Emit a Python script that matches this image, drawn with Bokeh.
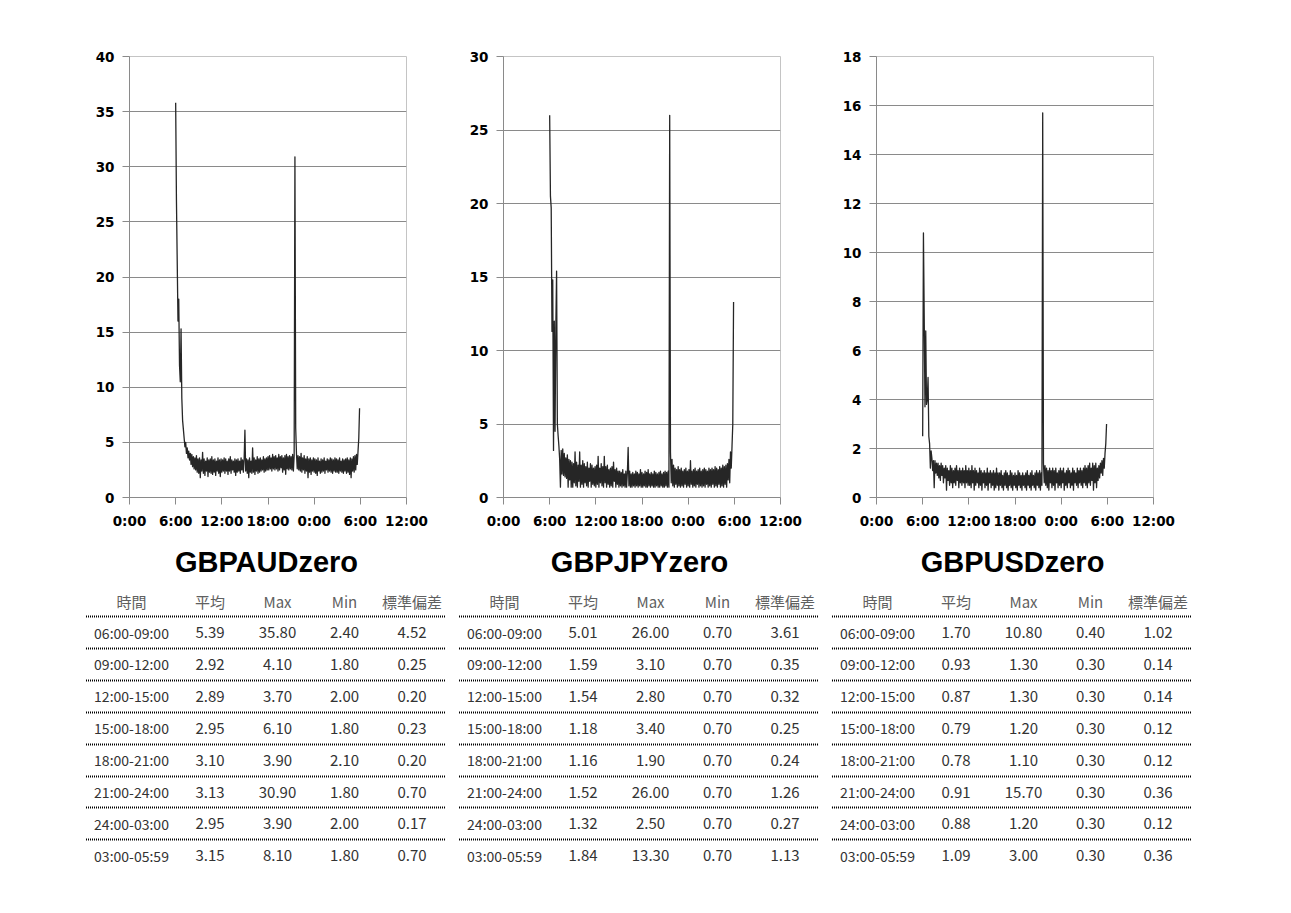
from bokeh.plotting import figure
from bokeh.layouts import row, column
from bokeh.models import Range1d, FixedTicker
from bokeh.core.properties import value
from bokeh.embed import file_html
from bokeh.resources import INLINE

# ---------------- data ----------------
# sampling times: every 6 minutes from 06:00 to 05:54 next day (minutes since 0:00 of day 1)
sample_minutes = list(range(360, 1800, 6))

aud_spread = [
    35.8, 27.0, 21.5, 16.0, 18.0, 12.0, 10.5, 15.3, 9.0, 7.0,
    6.2, 5.4, 4.6, 5.0, 4.0, 4.5, 3.6, 4.2, 3.4, 4.0,
    3.0, 3.9, 2.8, 3.7, 2.6, 3.6, 2.5, 3.8, 2.3, 3.5,
    2.2, 3.6, 1.8, 3.4, 2.4, 4.1, 2.2, 3.5, 2.0, 3.3,
    2.4, 3.6, 1.9, 3.4, 2.3, 3.5, 2.2, 3.7, 2.1, 3.4,
    2.3, 3.5, 2.0, 3.3, 2.4, 3.6, 2.2, 3.4, 1.9, 3.5,
    2.3, 3.4, 2.4, 3.6, 2.2, 3.5, 2.4, 3.3, 2.1, 3.5,
    2.4, 3.7, 2.2, 3.4, 2.5, 3.3, 2.3, 3.5, 2.0, 3.4,
    2.3, 3.5, 2.4, 3.3, 2.2, 3.6, 2.5, 3.4, 2.3, 3.5,
    6.1, 2.4, 3.5, 2.2, 3.4, 1.8, 3.6, 2.3, 3.3, 2.2,
    4.5, 2.3, 3.6, 2.1, 3.4, 2.4, 3.7, 2.2, 3.5, 2.3,
    3.6, 2.4, 3.4, 2.5, 3.7, 2.3, 3.5, 2.4, 3.6, 2.5,
    3.7, 2.5, 3.8, 2.6, 3.6, 2.4, 3.9, 2.6, 3.7, 2.5,
    3.8, 2.6, 3.6, 2.4, 3.9, 2.5, 3.7, 2.7, 3.8, 2.3,
    3.6, 2.5, 3.8, 2.1, 3.9, 2.6, 3.7, 2.5, 3.8, 2.6,
    3.7, 2.5, 3.9, 2.4, 3.8, 30.9, 6.3, 4.0, 2.6, 3.8,
    2.5, 3.7, 2.4, 4.0, 2.3, 3.6, 2.5, 3.8, 2.2, 3.5,
    2.4, 3.7, 1.8, 3.5, 2.3, 3.6, 2.1, 3.4, 2.4, 3.6,
    2.3, 3.5, 2.2, 3.4, 2.0, 3.6, 2.4, 3.3, 2.2, 3.5,
    2.3, 3.4, 2.4, 3.6, 2.2, 3.3, 2.5, 3.5, 2.3, 3.4,
    2.4, 3.6, 2.3, 3.5, 2.2, 3.4, 2.4, 3.6, 2.3, 3.5,
    2.3, 3.4, 2.2, 3.6, 2.4, 3.3, 2.3, 3.5, 2.2, 3.4,
    2.4, 3.5, 2.2, 3.6, 2.3, 3.4, 2.1, 3.6, 1.8, 3.5,
    2.4, 3.7, 2.3, 3.8, 2.5, 3.9, 3.0, 4.2, 5.4, 8.1,
]

jpy_spread = [
    26.0, 20.5, 19.7, 11.3, 14.8, 3.2, 12.0, 4.5, 11.5, 15.4,
    5.0, 4.2, 3.5, 2.6, 0.7, 3.2, 1.6, 3.3, 1.5, 3.0,
    1.4, 2.7, 1.3, 2.9, 0.7, 2.6, 1.2, 2.5, 0.7, 2.4,
    0.7, 2.3, 1.0, 3.1, 0.8, 2.4, 0.7, 2.2, 1.1, 3.1,
    0.7, 2.2, 0.9, 2.5, 0.7, 2.3, 1.0, 2.1, 0.8, 2.4,
    0.7, 2.0, 1.1, 2.3, 0.7, 2.2, 0.9, 2.0, 0.8, 2.1,
    0.7, 2.2, 0.9, 2.8, 0.7, 2.0, 1.0, 2.3, 0.8, 2.1,
    0.7, 2.8, 1.0, 2.1, 0.7, 2.2, 0.9, 1.9, 0.7, 2.0,
    0.8, 2.1, 0.7, 2.4, 1.1, 1.9, 0.7, 2.0, 0.9, 1.8,
    0.7, 1.8, 0.8, 1.7, 0.7, 1.9, 0.8, 1.6, 0.7, 1.8,
    0.7, 1.7, 3.4, 0.8, 1.8, 0.7, 1.6, 0.7, 1.7, 0.8,
    1.6, 0.7, 1.8, 0.8, 1.7, 0.7, 1.6, 0.8, 1.9, 0.7,
    1.7, 0.7, 1.6, 0.8, 1.8, 0.7, 1.7, 0.7, 1.9, 0.8,
    1.6, 0.7, 1.7, 0.8, 1.6, 0.7, 1.8, 0.7, 1.7, 0.8,
    1.6, 0.7, 1.7, 0.7, 1.8, 0.8, 1.6, 0.7, 1.7, 0.7,
    1.8, 0.8, 1.7, 0.7, 1.8, 0.7, 26.0, 3.1, 1.0, 2.6,
    0.8, 2.2, 0.7, 2.0, 0.9, 1.9, 0.7, 2.1, 0.8, 1.9,
    0.7, 2.0, 0.8, 1.8, 0.7, 1.9, 0.9, 2.0, 0.7, 1.8,
    0.8, 1.9, 0.7, 2.5, 0.9, 1.8, 0.7, 1.9, 0.8, 2.0,
    0.7, 1.8, 0.9, 1.9, 0.7, 2.0, 0.8, 1.8, 0.7, 1.9,
    0.8, 2.0, 0.7, 1.9, 0.9, 1.8, 0.7, 2.0, 0.8, 1.9,
    0.7, 2.0, 0.9, 1.9, 0.7, 2.1, 0.8, 2.0, 0.7, 1.9,
    0.9, 2.1, 0.7, 2.0, 0.8, 2.2, 0.7, 2.1, 0.9, 2.2,
    0.7, 2.3, 1.2, 2.6, 1.0, 3.1, 2.0, 3.5, 5.0, 13.3,
]

usd_spread = [
    2.5, 10.8, 7.4, 3.7, 6.8, 3.8, 4.0, 4.9, 2.5, 2.2,
    1.2, 1.9, 1.6, 1.1, 1.5, 0.4, 1.5, 1.0, 1.4, 0.9,
    1.4, 0.8, 1.3, 0.7, 1.4, 0.9, 1.3, 0.6, 1.2, 0.8,
    1.3, 0.3, 1.2, 0.7, 1.1, 0.5, 1.3, 0.6, 1.2, 0.4,
    1.1, 0.6, 1.2, 0.5, 1.3, 0.7, 1.1, 0.4, 1.2, 0.6,
    1.1, 0.5, 1.2, 0.6, 1.1, 0.4, 1.3, 0.6, 1.1, 0.5,
    1.2, 0.5, 1.1, 0.4, 1.3, 0.6, 1.1, 0.3, 1.2, 0.5,
    1.1, 0.6, 1.0, 0.4, 1.2, 0.5, 1.1, 0.3, 1.0, 0.6,
    1.1, 0.4, 1.0, 0.5, 1.2, 0.3, 1.0, 0.6, 1.1, 0.4,
    1.0, 0.5, 1.1, 0.3, 1.0, 0.4, 1.2, 0.5, 1.0, 0.3,
    1.0, 0.5, 1.1, 0.4, 0.9, 0.3, 1.0, 0.5, 1.1, 0.4,
    1.0, 0.3, 0.9, 0.5, 1.1, 0.4, 1.0, 0.3, 0.9, 0.5,
    1.0, 0.4, 0.9, 0.3, 1.1, 0.5, 1.0, 0.4, 0.9, 0.3,
    1.0, 0.5, 0.9, 0.4, 1.0, 0.3, 1.1, 0.5, 0.9, 0.4,
    1.0, 0.3, 1.1, 0.5, 0.9, 0.4, 1.0, 0.3, 1.1, 0.5,
    1.0, 0.4, 1.1, 0.3, 1.0, 0.5, 15.7, 1.4, 0.6, 1.3,
    0.5, 1.2, 0.4, 1.1, 0.3, 1.2, 0.6, 1.1, 0.4, 1.2,
    0.5, 1.1, 0.3, 1.2, 0.6, 1.0, 0.4, 1.1, 0.5, 1.2,
    0.4, 1.1, 0.6, 1.2, 0.3, 1.0, 0.5, 1.1, 0.4, 1.2,
    0.6, 1.1, 0.4, 1.0, 0.5, 1.2, 0.3, 1.1, 0.6, 1.0,
    0.5, 1.2, 0.4, 1.1, 0.6, 1.2, 0.5, 1.1, 0.4, 1.2,
    0.6, 1.3, 0.5, 1.2, 0.4, 1.3, 0.6, 1.4, 0.5, 1.2,
    0.7, 1.4, 0.3, 1.3, 0.6, 1.4, 0.4, 1.2, 0.7, 1.3,
    0.8, 1.4, 1.0, 1.5, 0.9, 1.6, 1.2, 1.8, 2.2, 3.0,
]

x_tick_hours = [0, 6, 12, 18, 24, 30, 36]
x_tick_labels = ["0:00", "6:00", "12:00", "18:00", "0:00", "6:00", "12:00"]

symbols = ["GBPAUDzero", "GBPJPYzero", "GBPUSDzero"]
header = ["時間", "平均", "Max", "Min", "標準偏差"]
time_slots = ["06:00-09:00", "09:00-12:00", "12:00-15:00", "15:00-18:00",
              "18:00-21:00", "21:00-24:00", "24:00-03:00", "03:00-05:59"]

aud_mean = [5.39, 2.92, 2.89, 2.95, 3.10, 3.13, 2.95, 3.15]
aud_max = [35.80, 4.10, 3.70, 6.10, 3.90, 30.90, 3.90, 8.10]
aud_min = [2.40, 1.80, 2.00, 1.80, 2.10, 1.80, 2.00, 1.80]
aud_std = [4.52, 0.25, 0.20, 0.23, 0.20, 0.70, 0.17, 0.70]

jpy_mean = [5.01, 1.59, 1.54, 1.18, 1.16, 1.52, 1.32, 1.84]
jpy_max = [26.00, 3.10, 2.80, 3.40, 1.90, 26.00, 2.50, 13.30]
jpy_min = [0.70, 0.70, 0.70, 0.70, 0.70, 0.70, 0.70, 0.70]
jpy_std = [3.61, 0.35, 0.32, 0.25, 0.24, 1.26, 0.27, 1.13]

usd_mean = [1.70, 0.93, 0.87, 0.79, 0.78, 0.91, 0.88, 1.09]
usd_max = [10.80, 1.30, 1.30, 1.20, 1.10, 15.70, 1.20, 3.00]
usd_min = [0.40, 0.30, 0.30, 0.30, 0.30, 0.30, 0.30, 0.30]
usd_std = [1.02, 0.14, 0.14, 0.12, 0.12, 0.36, 0.12, 0.36]

# ---------------- charts ----------------
sample_hours = [m / 60 for m in sample_minutes]
GRID = "#8a8a8a"


def make_chart(values, ymax, ystep, left, right):
    p = figure(frame_width=277, frame_height=441,
               x_range=Range1d(0, 36), y_range=Range1d(0, ymax),
               output_backend="svg", toolbar_location=None,
               min_border_left=left, min_border_right=right,
               min_border_top=56, min_border_bottom=43,
               background_fill_color="white", border_fill_color="white")
    p.line(sample_hours, values, line_color="#262626", line_width=1.3,
           line_join="round")
    p.outline_line_color = "#c4c4c4"
    p.xgrid.visible = False
    p.ygrid.grid_line_color = GRID
    p.ygrid.grid_line_width = 1

    p.xaxis.ticker = FixedTicker(ticks=x_tick_hours)
    p.xaxis.major_label_overrides = {h: lab for h, lab in zip(x_tick_hours, x_tick_labels)}
    p.yaxis.ticker = FixedTicker(ticks=list(range(0, ymax + 1, ystep)))
    for ax in (p.xaxis, p.yaxis):
        ax.axis_line_color = GRID
        ax.major_tick_line_color = GRID
        ax.major_tick_out = 7
        ax.major_tick_in = 0
        ax.minor_tick_line_color = None
        ax.major_label_text_font = "DejaVu Sans"
        ax.major_label_text_font_style = "bold"
        ax.major_label_text_font_size = "13.5px"
        ax.major_label_text_color = "black"
        ax.major_label_standoff = 8
    return p


c1 = make_chart(aud_spread, 40, 5, 129, 39)
c2 = make_chart(jpy_spread, 30, 5, 58, 38)
c3 = make_chart(usd_spread, 18, 2, 58, 138)

# ---------------- titles + tables ----------------
W, TOP, BOT = 1291, 540, 913
t = figure(frame_width=W, frame_height=BOT - TOP,
           x_range=Range1d(0, W), y_range=Range1d(BOT, TOP),
           x_axis_type=None, y_axis_type=None,
           output_backend="svg", toolbar_location=None,
           min_border=0, outline_line_color=None,
           background_fill_color="white", border_fill_color="white")

table_x0 = [131, 504, 877]
col_off = [0, 78.5, 146, 213, 280.5]
stats = [
    (aud_mean, aud_max, aud_min, aud_std),
    (jpy_mean, jpy_max, jpy_min, jpy_std),
    (usd_mean, usd_max, usd_min, usd_std),
]
title_y = 561.5
header_y = 601
row_y0, row_dy = 632, 31.9
line_y0 = 616

tx, ty, tt = [], [], []
hx, hy, ht = [], [], []
rx, ry, rt = [], [], []
nx, ny, nt = [], [], []
sx0, sx1, sy = [], [], []
for k, x0 in enumerate(table_x0):
    tx.append(x0 + 135); ty.append(title_y); tt.append(symbols[k])
    for j, h in enumerate(header):
        hx.append(x0 + col_off[j]); hy.append(header_y); ht.append(h)
    cols = stats[k]
    for i, slot in enumerate(time_slots):
        y = row_y0 + i * row_dy
        rx.append(x0); ry.append(y); rt.append(slot)
        for j, col in enumerate(cols):
            nx.append(x0 + col_off[j + 1]); ny.append(y); nt.append(f"{col[i]:.2f}")
        sx0.append(x0 - 45.5); sx1.append(x0 + 313.5); sy.append(round(line_y0 + i * row_dy))

t.segment(x0=sx0, y0=sy, x1=sx1, y1=sy, line_color="#000000", line_width=2,
          line_dash="1 1", line_cap="butt")
t.text(x=tx, y=ty, text=tt, text_font=value("Liberation Sans"), text_font_style="bold",
       text_font_size="29px", text_color="black", text_align="center", text_baseline="middle")
t.text(x=hx, y=hy, text=ht, text_font=value("Noto Sans CJK JP"),
       text_font_size="15px", text_color="#606060", text_align="center", text_baseline="middle")
t.text(x=rx, y=ry, text=rt, text_font=value("Noto Sans CJK JP"),
       text_font_size="14px", text_color="#333333", text_align="center", text_baseline="middle")
t.text(x=nx, y=ny, text=nt, text_font=value("Noto Sans CJK JP"),
       text_font_size="15px", text_color="#333333", text_align="center", text_baseline="middle")

layout = column(row(c1, c2, c3), t)
open("out.html", "w").write(file_html(layout, INLINE))
